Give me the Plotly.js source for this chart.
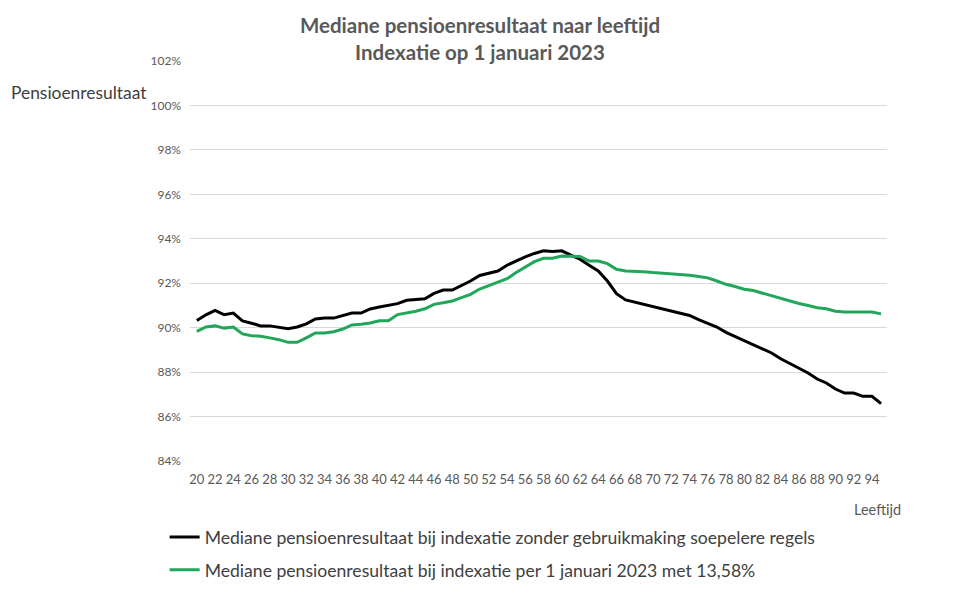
<!DOCTYPE html>
<html>
<head>
<meta charset="utf-8">
<script src="https://cdn.plot.ly/plotly-3.0.1.min.js"></script>
<style>html,body{margin:0;padding:0;background:#fff}#chart{width:960px;height:600px}</style>
</head>
<body>
<div id="chart"></div>
<script>
const ages = [];
for (let a = 20; a <= 95; a++) ages.push(a);

const zonderSoepelere = [
  90.32, 90.58, 90.78, 90.58, 90.66, 90.30, 90.20, 90.08, 90.08, 90.03,
  89.95, 90.03, 90.17, 90.39, 90.43, 90.43, 90.53, 90.66, 90.66, 90.84,
  90.93, 90.99, 91.08, 91.23, 91.28, 91.30, 91.54, 91.69, 91.69, 91.90,
  92.10, 92.35, 92.44, 92.55, 92.81, 93.00, 93.19, 93.34, 93.46, 93.43,
  93.46, 93.26, 93.08, 92.81, 92.55, 92.10, 91.53, 91.25, 91.15, 91.05,
  90.98, 90.85, 90.77, 90.67, 90.55, 90.36, 90.21, 90.03, 89.79, 89.61,
  89.43, 89.24, 89.04, 88.86, 88.60, 88.38, 88.17, 87.96, 87.69, 87.51,
  87.24, 87.06, 87.06, 86.91, 86.91, 86.58
];

const per2023 = [
  89.83, 90.03, 90.08, 89.98, 90.03, 89.72, 89.64, 89.61, 89.54, 89.46,
  89.34, 89.34, 89.54, 89.76, 89.76, 89.82, 89.94, 90.12, 90.15, 90.21,
  90.31, 90.31, 90.59, 90.66, 90.74, 90.85, 91.05, 91.12, 91.20, 91.35,
  91.50, 91.74, 91.89, 92.04, 92.20, 92.48, 92.74, 92.97, 93.12, 93.12,
  93.22, 93.20, 93.20, 93.00, 93.00, 92.88, 92.63, 92.55, 92.54, 92.52,
  92.48, 92.45, 92.42, 92.42, 92.36, 92.30, 92.24, 92.10, 91.95, 91.85,
  91.73, 91.67, 91.55, 91.43, 91.30, 91.18, 91.09, 91.00, 90.90, 90.85,
  90.74, 90.70, 90.70, 90.70, 90.70, 90.62
];

const xTicks = [];
for (let a = 20; a <= 94; a += 2) xTicks.push(a);
const yTicks = [84, 86, 88, 90, 92, 94, 96, 98, 100, 102];

const seriesNames = [
  'Mediane pensioenresultaat bij indexatie zonder gebruikmaking soepelere regels',
  'Mediane pensioenresultaat bij indexatie per 1 januari 2023 met 13,58%'
];

const FONT = 'Lato, "Open Sans", sans-serif';

const traces = [
  {x: ages, y: zonderSoepelere, name: seriesNames[0], type: 'scatter', mode: 'lines',
   line: {color: '#000000', width: 3}, legendgroup: 'a'},
  {x: ages, y: per2023, name: seriesNames[1], type: 'scatter', mode: 'lines',
   line: {color: '#22a65a', width: 3}, legendgroup: 'b'}
];

const layout = {
  width: 960, height: 600,
  paper_bgcolor: '#ffffff', plot_bgcolor: '#ffffff',
  margin: {l: 190, r: 73, t: 61, b: 139, autoexpand: false},
  font: {family: FONT, color: '#595959'},
  title: {
    text: '<b>Mediane pensioenresultaat naar leeftijd</b><br><b>Indexatie op 1 januari 2023</b>',
    font: {family: FONT, size: 20.5, color: '#595959'},
    x: 0.5, xanchor: 'center', xref: 'container',
    y: 0.945, yanchor: 'top', yref: 'container'
  },
  xaxis: {
    range: [19.25, 95.65],
    tickmode: 'array', tickvals: xTicks, ticktext: xTicks.map(String),
    tickangle: 0,
    showgrid: false, zeroline: false, showline: false, ticks: '',
    tickfont: {family: FONT, size: 13, color: '#595959'},
    ticklabelstandoff: 9
  },
  yaxis: {
    range: [84, 102],
    tickmode: 'array', tickvals: yTicks, ticktext: yTicks.map(v => v + '%'),
    showgrid: true, gridcolor: '#d9d9d9', gridwidth: 1,
    zeroline: false, showline: false, ticks: '',
    tickfont: {family: FONT, size: 12, color: '#595959'},
    ticklabelstandoff: 8
  },
  showlegend: true,
  legend: {
    orientation: 'v', traceorder: 'grouped', tracegroupgap: 7,
    xref: 'container', yref: 'container',
    x: 0.1715, xanchor: 'left', y: 0.135, yanchor: 'top',
    font: {family: FONT, size: 17.6, color: '#404040'},
    bgcolor: 'rgba(0,0,0,0)'
  },
  annotations: [
    {text: 'Pensioenresultaat', xref: 'paper', yref: 'paper', x: -0.26, y: 0.9225,
     xanchor: 'left', yanchor: 'middle', showarrow: false,
     font: {family: FONT, size: 17.4, color: '#404040'}},
    {text: 'Leeftijd', xref: 'paper', yref: 'paper', x: 1.023, y: -0.12,
     xanchor: 'right', yanchor: 'middle', showarrow: false,
     font: {family: FONT, size: 14.5, color: '#595959'}}
  ]
};

Plotly.newPlot('chart', traces, layout, {displayModeBar: false, staticPlot: true});
</script>
</body>
</html>
